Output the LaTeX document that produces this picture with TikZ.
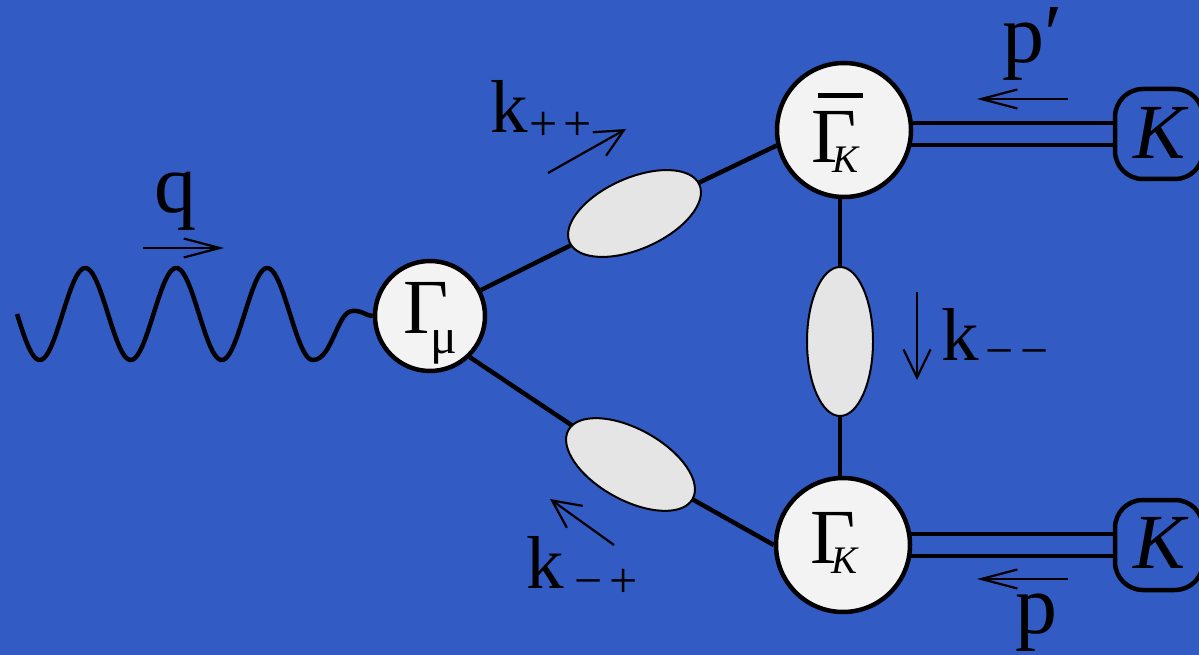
\documentclass[tikz,border=0pt]{standalone}
\usepackage{fontspec}
\setmainfont{Liberation Serif}
\usetikzlibrary{arrows.meta,shapes.geometric}
\pgfdeclarelayer{bottom}
\pgfdeclarelayer{back}
\pgfsetlayers{bottom,back,main}
\definecolor{bg}{RGB}{51,91,196}
\definecolor{circ}{RGB}{243,243,243}
\definecolor{blob}{RGB}{229,229,229}
\newcommand\fs[1]{\fontsize{#1}{#1}\selectfont}
\begin{document}
\begin{tikzpicture}[x=1pt,y=-1pt,
  vtx/.style={circle,draw,line width=4.5pt,fill=circ,inner sep=0pt,minimum size=#1},
  blobn/.style={ellipse,draw,line width=2pt,fill=blob,inner sep=0pt,minimum width=142pt,minimum height=71pt},
  kbox/.style={rectangle,rounded corners=28pt,draw,line width=4.5pt,minimum width=88pt,minimum height=90pt,inner sep=0pt},
  lnk/.style={line width=4.5pt},
  dbl/.style={line width=4.5pt,double=bg,double distance=17.5pt},
  wave/.style={line width=4.5pt,line join=round},
  momk/.style={line width=2.2pt,-{Straight Barb[length=28pt,width=27pt]}},
  momp/.style={line width=2.2pt,-{Straight Barb[length=36pt,width=19pt]}},
  lbl/.style={inner sep=0pt,font=\fs{75}},
  subs/.style={},
]
\begin{pgfonlayer}{bottom}
\fill[bg] (0,0) rectangle (1199,655);
\end{pgfonlayer}
\useasboundingbox (0,0) rectangle (1199,655);

% vertices
\node[vtx=110pt] (gmu) at (430,316) {\raisebox{-17pt}[0pt][0pt]{\fs{78}Γ\kern-18pt\raisebox{-20pt}{\fs{50}μ}}};
\node[vtx=134pt] (gbar) at (844,130) {\raisebox{-33pt}[0pt][0pt]{\fs{78}\rlap{\kern6pt\rule[65pt]{45pt}{5pt}}Γ\kern-25pt\raisebox{-10pt}{\fs{39}\itshape K}\kern18pt}};
\node[vtx=134pt] (gk) at (843,545) {\raisebox{-18pt}[0pt][0pt]{\fs{78}Γ\kern-25pt\raisebox{-10pt}{\fs{39}\itshape K}\kern18pt}};

% propagator blobs
\node[blobn,rotate=24] (e1) at (634.5,213.5) {};
\node[blobn,rotate=-29] (e2) at (630.5,464.5) {};
\node[blobn,minimum width=66pt,minimum height=149pt] (ev) at (840,341.5) {};

% kaon boxes
\node[kbox] (kt) at (1159,134) {\raisebox{-25pt}[0pt][0pt]{\fs{78}\itshape K}};
\node[kbox] (kb) at (1159,545) {\raisebox{-23pt}[0pt][0pt]{\fs{78}\itshape K}};

% connectors
\begin{pgfonlayer}{back}
\draw[wave] plot[domain=17:313,samples=200] (\x,{314+46*sin(3.95604*(\x-17))})
  .. controls (332,360) and (337,312) .. (352,311)
  .. controls (362,310) and (366,316) .. (gmu.west);
\draw[lnk] (gmu.27) -- (e1.center) -- (gbar.193);
\draw[lnk] (gmu.-46) -- (e2.center) -- (gk.180);
\draw[lnk] (ev.center |- gbar.center) -- (ev.center) -- (ev.center |- gk.center);
\draw[dbl] (gbar |- kt) -- (kt.west);
\draw[dbl] (gk |- kb) -- (kb.west);
\end{pgfonlayer}

% momenta
\draw[momp] (143,248) -- (224,248);
\node[lbl,font=\fs{84},anchor=base] (lq) at (175,213) {q};
\draw[momp] (1068,99) -- (977,99);
\node[lbl,font=\fs{84},anchor=base west] (lpp) at (1002,63) {p′};
\draw[momp] (1068,579) -- (977,579);
\node[lbl,font=\fs{84},anchor=base] (lp) at (1036,633) {p};
\draw[momk] (548,173) -- (626,129);
\node[lbl,anchor=base west] (kpp) at (490,133) {k\kern2pt\raisebox{-8pt}{\fs{50}+\kern5.5pt+}};
\draw[momk] (917,292) -- (917,380);
\node[lbl,anchor=base west] (kmm) at (941,360) {k\kern6.7pt\raisebox{-7pt}{\fs{50}−\kern7pt−}};
\draw[momk] (614,545) -- (550,499);
\node[lbl,anchor=base west] (kmp) at (526,588) {k\kern10.7pt\raisebox{-9pt}{\fs{50}−\kern7pt+}};
\end{tikzpicture}
\end{document}
